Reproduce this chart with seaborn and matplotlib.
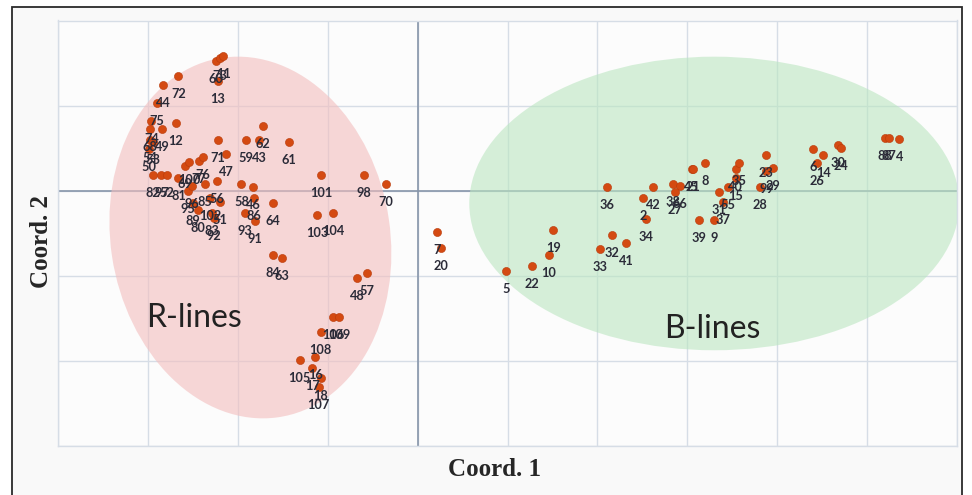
import matplotlib
matplotlib.use("Agg")
import matplotlib.pyplot as plt
from matplotlib.patches import Ellipse, Rectangle
import pandas as pd
import seaborn as sns

# R-lines (left group): line id, Coord. 1, Coord. 2
r_ids = [60, 73, 11, 13, 72, 44, 75, 74, 68, 49, 12, 54, 53, 50, 71, 59, 43, 62,
         61, 47, 82, 97, 52, 81, 69, 100, 77, 76, 56, 95, 96, 85, 102, 51, 89, 80,
         83, 92, 58, 46, 86, 93, 91, 64, 84, 63, 101, 98, 70, 103, 104, 48, 57,
         106, 109, 108, 16, 105, 17, 18, 107]
r_x = [-2.24, -2.20, -2.16, -2.22, -2.66, -2.83, -2.90, -2.96, -2.98, -2.84, -2.69,
       -2.98, -2.94, -2.99, -2.22, -1.91, -1.76, -1.72, -1.43, -2.13, -2.94, -2.85,
       -2.79, -2.66, -2.59, -2.54, -2.43, -2.39, -2.23, -2.55, -2.51, -2.36, -2.31,
       -2.20, -2.50, -2.44, -2.29, -2.27, -1.96, -1.83, -1.82, -1.92, -1.81, -1.61,
       -1.61, -1.51, -1.07, -0.60, -0.35, -1.12, -0.94, -0.67, -0.56, -0.94, -0.87,
       -1.08, -1.14, -1.31, -1.17, -1.08, -1.10]
r_y = [1.52, 1.56, 1.58, 1.29, 1.35, 1.24, 1.03, 0.82, 0.72, 0.73, 0.79, 0.59, 0.57,
       0.49, 0.59, 0.59, 0.60, 0.76, 0.57, 0.43, 0.19, 0.19, 0.19, 0.15, 0.29, 0.34,
       0.35, 0.40, 0.11, 0.00, 0.05, 0.08, -0.08, -0.13, -0.14, -0.23, -0.26, -0.32,
       0.08, 0.04, -0.08, -0.26, -0.36, -0.15, -0.75, -0.79, 0.19, 0.18, 0.08, -0.29,
       -0.26, -1.02, -0.97, -1.49, -1.49, -1.66, -1.95, -1.99, -2.08, -2.20, -2.31]

# B-lines (right group)
b_ids = [5, 22, 10, 19, 36, 33, 32, 41, 34, 2, 42, 38, 66, 27, 45, 21, 8, 31, 37,
         39, 9, 55, 15, 40, 35, 28, 23, 29, 99, 6, 14, 26, 30, 24, 88, 87, 4]
b_x = [0.98, 1.27, 1.46, 1.51, 2.11, 2.03, 2.16, 2.32, 2.54, 2.51, 2.62, 2.84, 2.92,
       2.86, 3.05, 3.06, 3.20, 3.35, 3.40, 3.13, 3.30, 3.45, 3.54, 3.54, 3.58, 3.81,
       3.88, 3.95, 3.88, 4.40, 4.51, 4.44, 4.68, 4.71, 5.20, 5.24, 5.36]
b_y = [-0.94, -0.89, -0.76, -0.46, 0.04, -0.69, -0.52, -0.62, -0.33, -0.09, 0.04,
       0.08, 0.06, -0.02, 0.26, 0.25, 0.32, -0.01, -0.13, -0.34, -0.35, 0.04, 0.15,
       0.26, 0.32, 0.04, 0.42, 0.27, 0.23, 0.49, 0.42, 0.32, 0.54, 0.50, 0.62, 0.62,
       0.61]

# Lines between the two groups
m_ids = [7, 20]
m_x = [0.22, 0.26]
m_y = [-0.48, -0.67]

df = pd.DataFrame({
    "id": r_ids + b_ids + m_ids,
    "c1": r_x + b_x + m_x,
    "c2": r_y + b_y + m_y,
})

sns.set_theme(style="whitegrid")
plt.rcParams["font.family"] = ["Lato", "DejaVu Sans"]

fig = plt.figure(figsize=(9.72, 4.95), dpi=100)
fig.patch.set_facecolor("white")

# light panel with a dark frame behind the chart
fig.add_artist(Rectangle((12 / 972, -0.05), (962 - 12) / 972, 1.05 - 7 / 495,
                         transform=fig.transFigure, facecolor="#f9f9f9",
                         edgecolor="#2a2a2a", linewidth=1.3, zorder=0))

ax = fig.add_axes([58 / 972, 49 / 495, 899 / 972, 425.5 / 495])
ax.set_facecolor("#fcfcfc")
ax.set_xlim(-4, 6)
ax.set_ylim(-3, 2)
ax.set_xticks(range(-4, 7))
ax.set_yticks(range(-3, 3))
ax.set_xticklabels([])
ax.set_yticklabels([])
ax.tick_params(length=0)
ax.grid(True, color="#d6dde6", linewidth=1.0)
ax.set_axisbelow(True)
for s in ax.spines.values():
    s.set_color("#d6dde6")
    s.set_linewidth(1.0)
ax.axvline(0, color="#8795aa", linewidth=1.2, zorder=1)
ax.axhline(0, color="#8795aa", linewidth=1.2, zorder=1)

# group ellipses
ax.add_patch(Ellipse((-1.86, -0.55), 3.11, 4.27, angle=8,
                     facecolor=(243 / 255, 190 / 255, 190 / 255), alpha=0.6,
                     edgecolor="none", zorder=2))
ax.add_patch(Ellipse((3.30, -0.15), 5.45, 3.45, angle=0,
                     facecolor=(187 / 255, 230 / 255, 193 / 255), alpha=0.6,
                     edgecolor="none", zorder=2))

sns.scatterplot(data=df, x="c1", y="c2", ax=ax, color="#d44a12", s=34,
                edgecolor="#b83a0a", linewidth=0.4, zorder=4, legend=False)

for lid, cx, cy in zip(df["id"], df["c1"], df["c2"]):
    ax.annotate(str(int(lid)), (cx, cy), xytext=(0, -18),
                textcoords="offset pixels", ha="center", va="center",
                fontsize=9.2, color="#2b2b38", fontweight="bold", zorder=5)

ax.text(-2.49, -1.50, "R-lines", fontsize=23, color="#222222",
        ha="center", va="center", zorder=5)
ax.text(3.28, -1.62, "B-lines", fontsize=23, color="#222222",
        ha="center", va="center", zorder=5)

ax.set_xlabel("")
ax.set_ylabel("")
fig.text(494 / 972, 1 - 470 / 495, "Coord. 1", family="Liberation Serif",
         fontweight="bold", fontsize=18, ha="center", va="center")
fig.text(42 / 972, 1 - 242 / 495, "Coord. 2", family="Liberation Serif",
         fontweight="bold", fontsize=18, ha="center", va="center", rotation=90)

fig.savefig("out.png", dpi=100)
